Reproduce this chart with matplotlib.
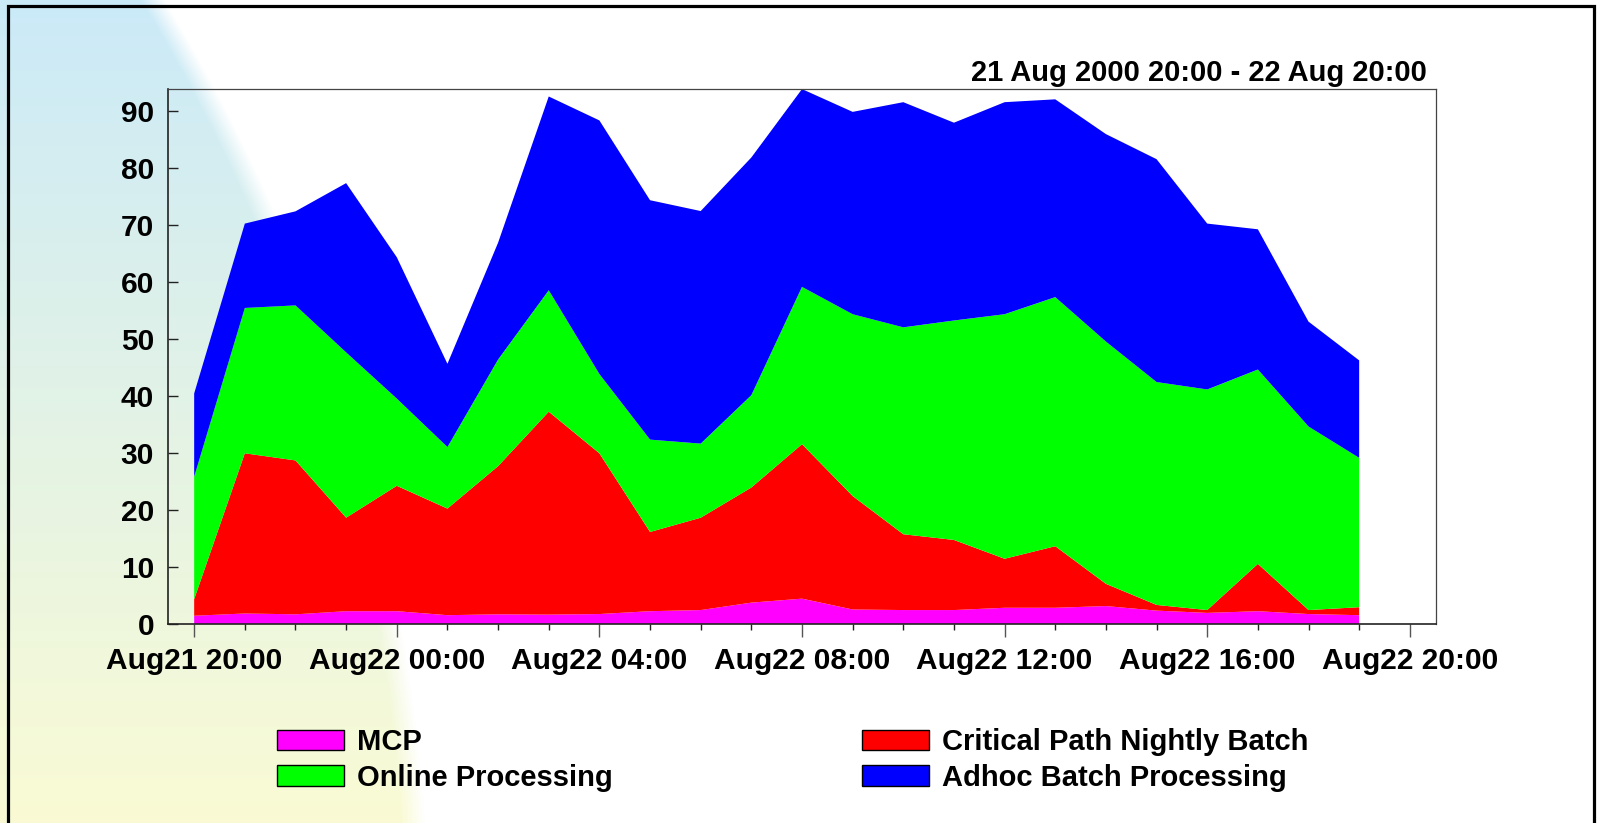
import numpy as np
import pandas as pd
import matplotlib
matplotlib.use("Agg")
import matplotlib.pyplot as plt
import matplotlib.dates as mdates
from matplotlib.patches import Patch, Rectangle

# hourly samples, 21 Aug 2000 20:00 .. 22 Aug 19:00
times = pd.date_range("2000-08-21 20:00", periods=24, freq="h")

mcp = [1.5, 1.9, 1.75, 2.3, 2.3, 1.6, 1.75, 1.7, 1.8, 2.3, 2.5, 3.8,
       4.5, 2.6, 2.5, 2.5, 2.9, 2.9, 3.2, 2.4, 2.0, 2.3, 1.8, 1.6]
critical = [2.9, 28.1, 27.0, 16.4, 22.0, 18.7, 26.0, 35.6, 28.2, 13.9, 16.2, 20.2,
            27.1, 19.9, 13.3, 12.3, 8.6, 10.8, 3.9, 1.0, 0.5, 8.3, 0.7, 1.4]
online = [21.5, 25.5, 27.2, 29.0, 15.3, 10.8, 18.7, 21.3, 13.9, 16.2, 13.0, 16.2,
          27.6, 31.9, 36.3, 38.5, 42.9, 43.7, 42.5, 39.1, 38.7, 34.1, 32.2, 26.2]
adhoc = [14.6, 14.8, 16.5, 29.7, 24.8, 14.6, 20.5, 34.0, 44.5, 42.0, 40.8, 41.7,
         34.7, 35.5, 39.5, 34.7, 37.2, 34.7, 36.4, 39.1, 29.1, 24.6, 18.4, 17.1]

labels = ["MCP", "Critical Path Nightly Batch", "Online Processing", "Adhoc Batch Processing"]
colors = ["#ff00ff", "#ff0000", "#00ff00", "#0000ff"]
title = "21 Aug 2000 20:00 - 22 Aug 20:00"

plt.rcParams["font.family"] = ["Liberation Sans", "DejaVu Sans"]
plt.rcParams["font.weight"] = "bold"
FS = 21

W, H = 1600, 823
fig = plt.figure(figsize=(16, 8.23), dpi=100)

# background decoration: blue -> yellow gradient bounded by a large arc
yy, xx = np.mgrid[0:H, 0:W].astype(float)
edge = 415 - 1835 + np.sqrt(np.clip(1835 ** 2 - (yy - 950) ** 2, 0, None))
alpha = np.clip((edge - xx) / 24.0 + 0.6, 0, 1)
t = (yy / H)[..., None]
top_c = np.array([203, 234, 248]) / 255
bot_c = np.array([250, 251, 212]) / 255
grad = top_c * (1 - t) + bot_c * t
img = grad * alpha[..., None] + (1 - alpha[..., None])
bg = fig.add_axes([0, 0, 1, 1], zorder=-10)
bg.imshow(img, extent=(0, W, H, 0), aspect="auto", interpolation="bilinear")
bg.set_axis_off()

# outer frame
fig.patches.append(Rectangle((8 / W, -0.02), (1594 - 8) / W, 1.02 - 6 / H,
                             transform=fig.transFigure, fill=False,
                             edgecolor="black", linewidth=2.3))

ax = fig.add_axes([168 / W, 1 - 624.3 / H, (1436 - 168) / W, (624.3 - 88.5) / H])
ax.set_facecolor("none")

ax.stackplot(times, mcp, critical, online, adhoc, colors=colors, linewidth=0)

total = np.array(mcp) + np.array(critical) + np.array(online) + np.array(adhoc)
ax.set_ylim(0, total.max() + 0.1)
ax.set_xlim(times[0] - pd.Timedelta(minutes=31), times[0] + pd.Timedelta(hours=24, minutes=31))

ax.set_yticks(range(0, 100, 10))
ax.xaxis.set_major_locator(mdates.HourLocator(byhour=[0, 4, 8, 12, 16, 20]))
ax.xaxis.set_minor_locator(mdates.HourLocator())
ax.xaxis.set_major_formatter(mdates.DateFormatter("%b%d %H:%M"))

ax.tick_params(axis="y", direction="in", length=7.5, width=1, labelsize=FS + 0.5, pad=10, color="#222222")
ax.tick_params(axis="x", which="major", direction="out", length=9.5, width=1, labelsize=FS + 0.5, pad=7,
               color="#555555")
ax.tick_params(axis="x", which="minor", direction="out", length=4.5, width=1, color="#222222")
for lab in ax.get_xticklabels() + ax.get_yticklabels():
    lab.set_fontweight("bold")

for side in ["left", "bottom"]:
    ax.spines[side].set_linewidth(1.2)
    ax.spines[side].set_color("#222222")
for side in ["top", "right"]:
    ax.spines[side].set_linewidth(0.9)
    ax.spines[side].set_color("#444444")

fig.text(1427 / W, 1 - 81 / H, title, ha="right", va="baseline", fontsize=FS, fontweight="bold")

handles = [Patch(facecolor=c, edgecolor="black", linewidth=1) for c in colors]
leg_kw = dict(frameon=False, fontsize=FS, handlelength=2.3, handleheight=0.7,
              handletextpad=0.45, labelspacing=0.27, borderpad=0, borderaxespad=0,
              loc="upper left")
fig.legend([handles[0], handles[2]], [labels[0], labels[2]],
           bbox_to_anchor=(277 / W, 1 - 728 / H), **leg_kw)
fig.legend([handles[1], handles[3]], [labels[1], labels[3]],
           bbox_to_anchor=(862 / W, 1 - 728 / H), **leg_kw)

fig.savefig("out.png", dpi=100)
